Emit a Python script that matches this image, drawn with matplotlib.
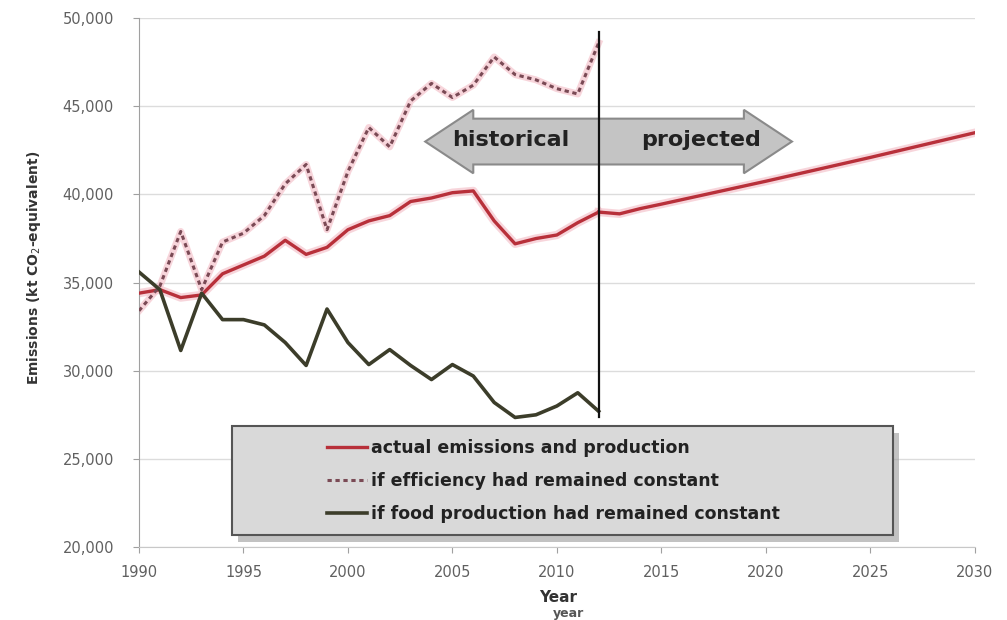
import matplotlib.pyplot as plt
import matplotlib.patches as mpatches
import numpy as np

# data
years_hist = np.arange(1990, 2013)
actual = np.array([34400, 34600, 34150, 34300, 35500, 36000, 36500, 37400, 36600, 37000,
                   38000, 38500, 38800, 39600, 39800, 40100, 40200, 38500, 37200, 37500,
                   37700, 38400, 39000])
efficiency = np.array([33400, 34800, 37900, 34600, 37300, 37800, 38800, 40600, 41700, 38000,
                       41300, 43800, 42700, 45300, 46300, 45500, 46200, 47800, 46800, 46500,
                       46000, 45700, 48600])
food = np.array([35600, 34600, 31150, 34400, 32900, 32900, 32600, 31600, 30300, 33500,
                 31600, 30350, 31200, 30300, 29500, 30350, 29700, 28200, 27350, 27500,
                 28000, 28750, 27700])
years_proj = np.array([2012, 2013, 2014, 2015, 2020, 2025, 2030])
actual_proj = np.array([39000, 38900, 39200, 39450, 40750, 42100, 43500])

labels = ['actual emissions and production',
          'if efficiency had remained constant',
          'if food production had remained constant']

red = '#b8303a'
halo = '#f5c4cc'

fig = plt.figure(figsize=(10.07, 6.2), dpi=100)
ax = fig.add_axes([0.138, 0.1177, 0.830, 0.853])

# grid and axes look
ax.set_xlim(1990, 2030)
ax.set_ylim(20000, 50000)
ax.set_yticks(np.arange(20000, 50001, 5000))
ax.set_xticks(np.arange(1990, 2031, 5))
ax.yaxis.set_major_formatter(plt.FuncFormatter(lambda v, p: f'{int(v):,}'))
ax.grid(axis='y', color='#dcdcdc', lw=1)
ax.set_axisbelow(True)
for s in ['top', 'right']:
    ax.spines[s].set_visible(False)
ax.spines['left'].set_color('#a0a0a0')
ax.spines['bottom'].set_color('#c8c8c8')
ax.tick_params(axis='both', colors='#a0a0a0', labelcolor='#606060', labelsize=10.5, length=4)
ax.tick_params(axis='x', pad=9)
ax.tick_params(axis='y', pad=14)

# lines
ax.plot(years_hist, actual, color=halo, lw=6, alpha=0.7, zorder=2)
ax.plot(years_proj, actual_proj, color=halo, lw=6, alpha=0.7, zorder=2)
ax.plot(years_hist, efficiency, color=halo, lw=5, alpha=0.7, zorder=2)
l1, = ax.plot(years_hist, actual, color=red, lw=2.4, zorder=4, label=labels[0])
ax.plot(years_proj, actual_proj, color=red, lw=2.4, zorder=4)
l2, = ax.plot(years_hist, efficiency, color='#7a4a55', lw=2.2, ls=(0, (1.4, 1.2)),
              zorder=4, label=labels[1])
l3, = ax.plot(years_hist, food, color='#3c3d2a', lw=2.6, zorder=4, label=labels[2])

# vertical divider
ax.plot([2012, 2012], [27400, 49200], color='#111111', lw=1.6, zorder=6)

# double arrow historical / projected
ax_c, ax_l, ax_r = 43000, 2003.7, 2021.25
hb, bh, hh = 2.3, 1300, 1800
arrow = mpatches.Polygon([(ax_l, ax_c), (ax_l + hb, ax_c + hh), (ax_l + hb, ax_c + bh),
                          (ax_r - hb, ax_c + bh), (ax_r - hb, ax_c + hh), (ax_r, ax_c),
                          (ax_r - hb, ax_c - hh), (ax_r - hb, ax_c - bh), (ax_l + hb, ax_c - bh),
                          (ax_l + hb, ax_c - hh)],
                         closed=True, facecolor='#c4c4c4', edgecolor='#8a8a8a', lw=1.5, zorder=5)
ax.add_patch(arrow)
ax.text(2007.8, ax_c + 100, 'historical', ha='center', va='center', fontsize=16,
        fontweight='bold', color='#222222', zorder=7)
ax.text(2016.9, ax_c + 100, 'projected', ha='center', va='center', fontsize=16,
        fontweight='bold', color='#222222', zorder=7)

# legend box with shadow
bx, by, bw, bhgt = 232 / 1007, 1 - 535 / 620, 661 / 1007, 109 / 620
shadow = mpatches.Rectangle((bx + 0.006, by - 0.012), bw, bhgt, transform=fig.transFigure,
                            facecolor='#9a9a9a', edgecolor='none', alpha=0.6, zorder=8)
box = mpatches.Rectangle((bx, by), bw, bhgt, transform=fig.transFigure,
                         facecolor='#d9d9d9', edgecolor='#555555', lw=1.5, zorder=9)
fig.patches.extend([shadow, box])
leg = fig.legend(handles=[l1, l2, l3], loc='center left', frameon=False,
                 bbox_to_anchor=(318 / 1007, 1 - 481 / 620), borderpad=0,
                 handlelength=2.3, handletextpad=0.25, labelspacing=0.85,
                 prop={'weight': 'bold', 'size': 12.5})
leg.set_zorder(10)
for t in leg.get_texts():
    t.set_color('#222222')

# axis labels
ax.set_ylabel('Emissions (kt CO$_2$-equivalent)', fontsize=10, fontweight='bold',
              color='#333333')
ax.yaxis.set_label_coords(-0.115, 0.527)
fig.text(558 / 1007, 1 - 598 / 620, 'Year', ha='center', va='center', fontsize=11,
         fontweight='bold', color='#333333')
fig.text(568 / 1007, 1 - 614 / 620, 'year', ha='center', va='center', fontsize=9,
         fontweight='bold', color='#555555')

fig.savefig('out.png', dpi=100)
